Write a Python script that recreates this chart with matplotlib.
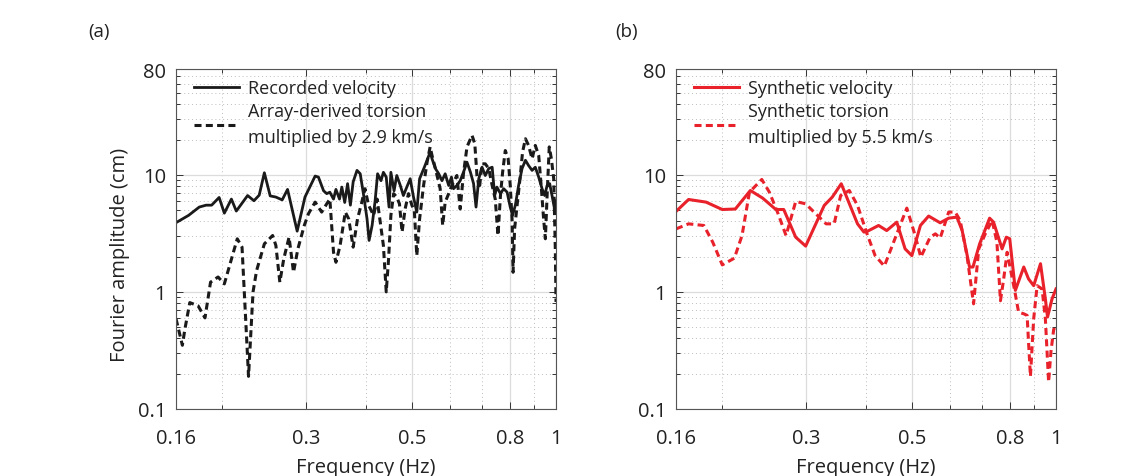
import matplotlib
matplotlib.use("Agg")
import matplotlib.pyplot as plt
from matplotlib.ticker import FixedLocator, NullFormatter

plt.rcParams['font.family'] = ['Open Sans', 'DejaVu Sans']

# ---------------- Panel (a): recorded data ----------------
rec_freq = [0.160, 0.170, 0.179, 0.185, 0.190, 0.197, 0.202, 0.209, 0.214, 0.226,
            0.233, 0.239, 0.245, 0.252, 0.259, 0.267, 0.274, 0.287, 0.298, 0.313,
            0.318, 0.326, 0.331, 0.336, 0.342, 0.346, 0.352, 0.356, 0.361, 0.366,
            0.371, 0.376, 0.383, 0.389, 0.395, 0.402, 0.406, 0.412, 0.418, 0.423,
            0.430, 0.435, 0.441, 0.447, 0.451, 0.458, 0.464, 0.472, 0.479, 0.487,
            0.495, 0.503, 0.511, 0.518, 0.530, 0.545, 0.550, 0.559, 0.568, 0.577,
            0.586, 0.596, 0.604, 0.610, 0.620, 0.630, 0.640, 0.651, 0.662, 0.672,
            0.680, 0.689, 0.700, 0.711, 0.723, 0.735, 0.744, 0.752, 0.765, 0.777,
            0.790, 0.802, 0.811, 0.822, 0.835, 0.849, 0.863, 0.876, 0.891, 0.905,
            0.920, 0.935, 0.947, 0.958, 0.970, 0.981, 0.993, 1.000]
rec_amp = [3.9, 4.5, 5.3, 5.5, 5.5, 6.4, 4.7, 6.2, 4.9, 6.65,
           6.0, 6.7, 10.4, 6.6, 6.45, 6.1, 7.5, 3.3, 6.45, 9.75,
           9.55, 7.3, 6.9, 7.1, 6.2, 7.5, 6.2, 7.85, 5.8, 8.4,
           5.5, 8.7, 10.9, 10.2, 6.9, 4.2, 2.75, 3.7, 6.0, 10.2,
           8.9, 10.5, 9.55, 5.3, 10.5, 7.3, 9.86, 8.1, 6.65, 7.85,
           9.25, 6.45, 4.8, 9.25, 11.6, 15.6, 13.7, 11.3, 10.2, 8.9,
           10.2, 8.1, 9.55, 7.6, 8.1, 8.9, 10.5, 12.8, 10.5, 8.4,
           5.3, 9.25, 11.6, 9.85, 11.3, 11.6, 6.65, 7.85, 6.9, 7.6,
           7.1, 5.3, 4.5, 5.5, 8.1, 11.3, 13.3, 12.0, 10.9, 11.6,
           9.55, 7.6, 6.65, 8.1, 8.4, 6.65, 5.1, 6.0]

tor_freq = [0.160, 0.165, 0.167, 0.171, 0.178, 0.184, 0.189, 0.196, 0.202, 0.215,
            0.220, 0.227, 0.232, 0.236, 0.245, 0.255, 0.259, 0.264, 0.269, 0.276,
            0.282, 0.288, 0.297, 0.303, 0.313, 0.323, 0.331, 0.336, 0.342, 0.346,
            0.353, 0.362, 0.368, 0.376, 0.384, 0.392, 0.398, 0.405, 0.415, 0.422,
            0.428, 0.435, 0.441, 0.446, 0.451, 0.457, 0.464, 0.470, 0.476, 0.483,
            0.491, 0.499, 0.505, 0.511, 0.518, 0.528, 0.537, 0.545, 0.550, 0.559,
            0.572, 0.579, 0.586, 0.596, 0.605, 0.620, 0.630, 0.640, 0.651, 0.667,
            0.676, 0.683, 0.691, 0.700, 0.711, 0.723, 0.735, 0.746, 0.756, 0.765,
            0.773, 0.783, 0.794, 0.802, 0.809, 0.813, 0.819, 0.829, 0.842, 0.851,
            0.863, 0.876, 0.891, 0.905, 0.920, 0.932, 0.942, 0.950, 0.958, 0.968,
            0.978, 0.989, 0.997, 1.000]
tor_amp = [0.59, 0.35, 0.48, 0.81, 0.76, 0.60, 1.21, 1.34, 1.17, 2.84,
           2.41, 0.19, 1.0, 1.52, 2.57, 3.03, 2.49, 1.21, 1.91, 2.93,
           1.47, 2.33, 3.69, 4.64, 5.84, 4.8, 5.65, 6.2, 2.18, 1.79,
           2.49, 4.8, 4.2, 2.41, 4.2, 5.84, 7.6, 5.5, 4.5, 6.2,
           4.07, 2.49, 1.0, 1.91, 4.5, 6.9, 6.45, 5.65, 3.24, 5.1,
           6.9, 5.5, 4.95, 2.04, 4.2, 8.1, 12.8, 17.3, 14.6, 11.3,
           7.6, 3.69, 5.84, 6.9, 8.1, 9.86, 5.1, 10.2, 17.3, 21.7,
           18.4, 9.86, 7.6, 12.4, 12.4, 11.3, 8.1, 6.2, 3.03, 6.65,
           10.5, 16.1, 13.7, 8.1, 4.2, 1.47, 3.45, 5.5, 9.86, 15.6,
           20.3, 17.8, 13.7, 17.8, 14.6, 7.6, 4.2, 2.84, 6.65, 17.3,
           13.7, 9.25, 2.18, 0.82]

# ---------------- Panel (b): synthetic data ----------------
syn_freq = [0.160, 0.170, 0.185, 0.200, 0.213, 0.229, 0.243, 0.259, 0.269, 0.285,
            0.299, 0.327, 0.340, 0.355, 0.384, 0.396, 0.402, 0.425, 0.442, 0.464,
            0.483, 0.499, 0.520, 0.541, 0.572, 0.596, 0.620, 0.636, 0.659, 0.670,
            0.692, 0.726, 0.740, 0.771, 0.787, 0.800, 0.822, 0.856, 0.876, 0.898,
            0.928, 0.950, 0.960, 0.981, 1.000]
syn_amp = [4.86, 6.15, 5.84, 5.05, 5.1, 7.34, 6.32, 5.05, 5.05, 2.93,
           2.46, 5.47, 6.45, 8.38, 3.81, 3.24, 3.28, 3.69, 3.34, 3.94,
           2.33, 2.04, 3.69, 4.44, 3.89, 4.26, 4.35, 3.34, 1.63, 1.63,
           2.57, 4.26, 3.94, 2.33, 2.93, 2.84, 1.03, 1.63, 1.29, 1.13,
           1.74, 0.87, 0.61, 0.87, 1.06]

syn_tor_freq = [0.160, 0.170, 0.183, 0.191, 0.200, 0.212, 0.220, 0.228, 0.242, 0.251,
                0.261, 0.272, 0.285, 0.299, 0.314, 0.330, 0.343, 0.354, 0.369, 0.384,
                0.402, 0.418, 0.437, 0.457, 0.487, 0.507, 0.521, 0.545, 0.559, 0.572,
                0.596, 0.615, 0.630, 0.651, 0.672, 0.689, 0.711, 0.735, 0.752, 0.765,
                0.777, 0.790, 0.818, 0.835, 0.856, 0.870, 0.876, 0.884, 0.898, 0.913,
                0.935, 0.950, 0.965, 0.976, 0.989, 1.000]
syn_tor_amp = [3.45, 3.81, 3.69, 2.66, 1.70, 1.94, 3.03, 7.1, 9.12, 7.1,
               4.8, 3.03, 5.91, 5.65, 4.64, 3.81, 3.81, 6.65, 7.34, 5.47,
               3.13, 2.04, 1.66, 2.66, 5.19, 3.03, 1.98, 2.93, 3.13, 2.88,
               4.8, 4.8, 4.07, 2.04, 0.79, 2.33, 3.13, 4.07, 2.66, 0.84,
               1.29, 2.18, 1.06, 0.67, 0.65, 0.63, 0.37, 0.19, 0.59, 1.13,
               1.06, 0.59, 0.17, 0.31, 0.48, 0.47]

x_major = [0.16, 0.3, 0.5, 0.8, 1.0]
x_major_labels = ['0.16', '0.3', '0.5', '0.8', '1']
x_minor = [0.2, 0.4, 0.6, 0.7, 0.9]
y_major = [0.1, 1, 10, 80]
y_major_labels = ['0.1', '1', '10', '80']
y_minor = [0.2, 0.3, 0.4, 0.5, 0.6, 0.7, 0.8, 0.9,
           2, 3, 4, 5, 6, 7, 8, 9, 20, 30, 40, 50, 60, 70]

legend_a = ['Recorded velocity', 'Array-derived torsion\nmultiplied by 2.9 km/s']
legend_b = ['Synthetic velocity', 'Synthetic torsion\nmultiplied by 5.5 km/s']

RED = '#e8212b'
BLACK = '#1a1a1a'
DASH = (0, (2.3, 1.4))

fig = plt.figure(figsize=(11.26, 4.77), dpi=100)
axa = fig.add_axes([176/1126, 1-410/477, 380/1126, 340/477])
axb = fig.add_axes([676/1126, 1-410/477, 380/1126, 340/477])

def style(ax):
    ax.set_xscale('log')
    ax.set_yscale('log')
    ax.set_xlim(0.16, 1.0)
    ax.set_ylim(0.1, 80)
    ax.xaxis.set_major_locator(FixedLocator(x_major))
    ax.xaxis.set_minor_locator(FixedLocator(x_minor))
    ax.yaxis.set_major_locator(FixedLocator(y_major))
    ax.yaxis.set_minor_locator(FixedLocator(y_minor))
    ax.set_xticklabels(x_major_labels)
    ax.set_yticklabels(y_major_labels)
    ax.xaxis.set_minor_formatter(NullFormatter())
    ax.yaxis.set_minor_formatter(NullFormatter())
    ax.tick_params(which='both', direction='in', top=True, right=True,
                   color='#333333', width=0.7)
    ax.tick_params(which='major', length=5)
    ax.tick_params(which='minor', length=3)
    ax.tick_params(axis='x', which='major', pad=14, labelsize=14.5, labelcolor='#222222')
    ax.tick_params(axis='y', which='major', pad=7, labelsize=14.5, labelcolor='#222222')
    ax.grid(True, which='major', color='#dcdcdc', linestyle='-', linewidth=0.9)
    ax.grid(True, which='minor', color='#bdbdbd', linestyle=(0, (1, 3)), linewidth=0.7)
    ax.set_axisbelow(True)
    for s in ax.spines.values():
        s.set_color('#555555')
        s.set_linewidth(0.8)
    ax.set_xlabel('Frequency (Hz)', fontsize=14.5, color='#222222', labelpad=6)

style(axa)
style(axb)

axa.plot(rec_freq, rec_amp, color=BLACK, lw=2.0, label=legend_a[0])
axa.plot(tor_freq, tor_amp, color=BLACK, lw=2.2, linestyle=DASH, label=legend_a[1])
axb.plot(syn_freq, syn_amp, color=RED, lw=2.2, label=legend_b[0])
axb.plot(syn_tor_freq, syn_tor_amp, color=RED, lw=2.2, linestyle=DASH, label=legend_b[1])

axa.set_ylabel('Fourier amplitude (cm)', fontsize=14.5, color='#222222')
axa.yaxis.set_label_coords(-0.12, 0.455)

for ax in (axa, axb):
    leg = ax.legend(loc='upper left', bbox_to_anchor=(18/380, 1 - 10/340), frameon=False,
                    fontsize=13, handlelength=2.5, handletextpad=0.5,
                    labelspacing=0.3, borderaxespad=0.0, borderpad=0.0)
    for t in leg.get_texts():
        t.set_color('#222222')
        t.set_linespacing(1.55)

fig.text(99/1126, 1-32/477, '(a)', fontsize=13.5, ha='center', va='center', color='#222222')
fig.text(627/1126, 1-32/477, '(b)', fontsize=13.5, ha='center', va='center', color='#222222')

fig.savefig('out.png', dpi=100)
